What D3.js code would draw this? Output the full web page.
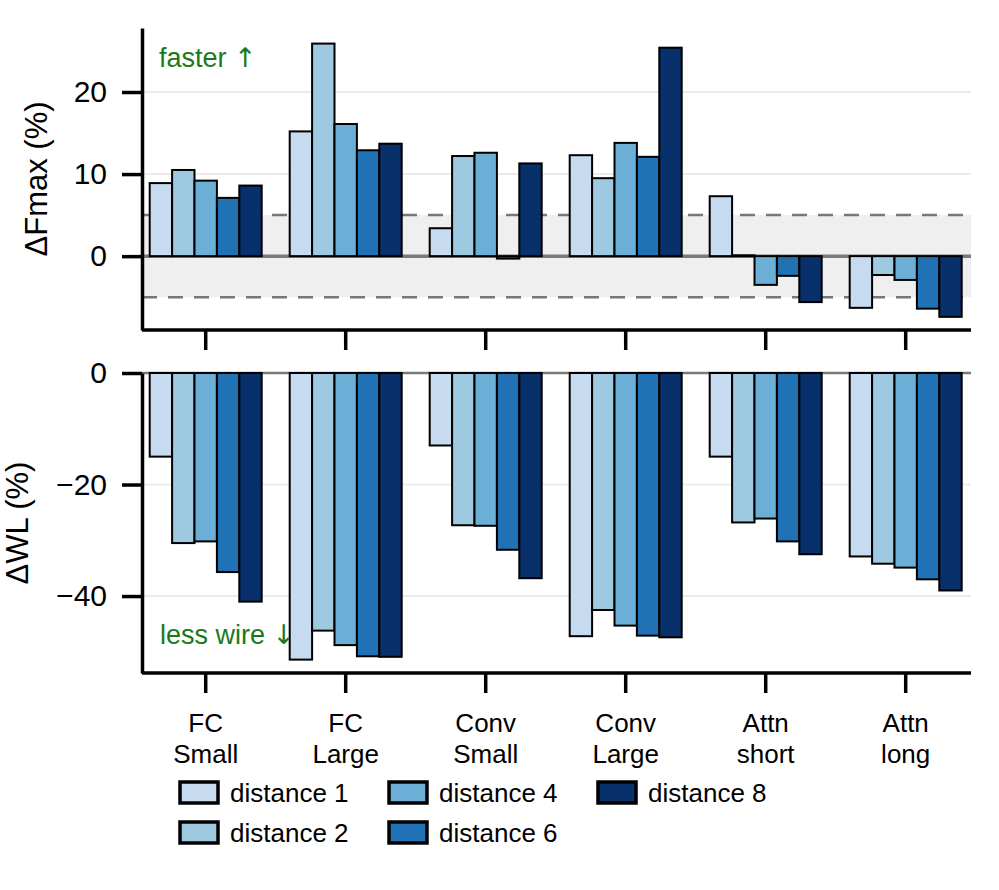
<!DOCTYPE html>
<html>
<head>
<meta charset="utf-8">
<script src="https://cdn.jsdelivr.net/npm/d3@7"></script>
<style>
body { margin:0; background:#fff; }
text { font-family: "Liberation Sans", Arial, Helvetica, sans-serif; fill:#000; }
</style>
</head>
<body>
<script>
var categories = ["FC\nSmall","FC\nLarge","Conv\nSmall","Conv\nLarge","Attn\nshort","Attn\nlong"];
var distances = ["distance 1","distance 2","distance 4","distance 6","distance 8"];
var colors = ["#c6dbef","#9ecae1","#6baed6","#2171b5","#08306b"];

// dFmax (%) per category, one value per distance
var fmax = [
	[8.9, 10.5, 9.2, 7.1, 8.6],
	[15.2, 25.9, 16.1, 12.9, 13.7],
	[3.4, 12.2, 12.6, -0.3, 11.3],
	[12.3, 9.5, 13.8, 12.1, 25.4],
	[7.3, 0.1, -3.5, -2.4, -5.6],
	[-6.3, -2.3, -2.9, -6.4, -7.4]
];

// dWL (%)
var wl = [
	[-15.0, -30.5, -30.2, -35.7, -41.0],
	[-51.4, -46.2, -48.8, -50.8, -50.9],
	[-13.0, -27.3, -27.4, -31.7, -36.8],
	[-47.2, -42.5, -45.3, -47.1, -47.4],
	[-15.0, -26.8, -26.1, -30.2, -32.5],
	[-32.9, -34.2, -34.9, -37.0, -39.0]
];

var topTicks = [0,10,20];
var botTicks = [0,-20,-40];
var bandLimit = 5;

var width = 999;
var height = 890;
var left = 142, right = 971;

var svg = d3.select("body").append("svg").attr("width",width).attr("height",height);

var x = d3.scaleBand().domain(categories).range([135.7,975.7]).paddingInner(0.2).paddingOuter(0.1);
var xSub = d3.scaleBand().domain(distances).range([0,x.bandwidth()]);

var yTop = d3.scaleLinear().domain([-9,27.8]).range([330,28]);
var yBot = d3.scaleLinear().domain([-53.8,0]).range([673,373]);

function panel(y, data, ticks, label, labelX, isTop){
	var g = svg.append("g");

	if(isTop){
		// grey "no change" band
		g.append("rect")
			.attr("x",left).attr("width",right-left)
			.attr("y",y(bandLimit)).attr("height",y(-bandLimit)-y(bandLimit))
			.attr("fill","#efefef");
	}

	// grid
	g.selectAll(".grid")
		.data(ticks.filter(function(d){ return d!=0; }))
		.enter().append("line")
			.attr("x1",left).attr("x2",right)
			.attr("y1",function(d){ return y(d); }).attr("y2",function(d){ return y(d); })
			.attr("stroke","#ebebeb").attr("stroke-width",2);

	if(isTop){
		g.selectAll(".dash")
			.data([bandLimit,-bandLimit])
			.enter().append("line")
				.attr("x1",left).attr("x2",right)
				.attr("y1",function(d){ return y(d); }).attr("y2",function(d){ return y(d); })
				.attr("stroke","#777").attr("stroke-width",2.5)
				.attr("stroke-dasharray","15,11");
	}

	// zero line
	g.append("line")
		.attr("x1",left).attr("x2",right)
		.attr("y1",y(0)).attr("y2",y(0))
		.attr("stroke","#7a7a7a").attr("stroke-width",isTop?3.5:2.5);

	var groups = g.selectAll(".grp")
		.data(data)
		.enter().append("g")
			.attr("transform",function(d,i){ return "translate("+x(categories[i])+",0)"; });

	groups.selectAll("rect")
		.data(function(d){ return d; })
		.enter().append("rect")
			.attr("x",function(d,i){ return xSub(distances[i]); })
			.attr("width",xSub.bandwidth())
			.attr("y",function(d){ return y(Math.max(0,d)); })
			.attr("height",function(d){ return Math.abs(y(d)-y(0)); })
			.attr("fill",function(d,i){ return colors[i]; })
			.attr("stroke","#000").attr("stroke-width",2);

	// y axis
	var ya = g.append("g")
		.attr("transform","translate("+left+",0)")
		.call(d3.axisLeft(y).tickValues(ticks).tickSize(20).tickSizeOuter(0).tickPadding(15));
	ya.select(".domain").attr("stroke-width",3.5);
	ya.selectAll(".tick line").attr("stroke-width",3.5);
	ya.selectAll("text").style("font-size","30px");

	// x axis
	var xa = g.append("g")
		.attr("transform","translate(0,"+y.range()[0]+")")
		.call(d3.axisBottom(x).tickSize(20).tickSizeOuter(0).tickFormat(""));
	xa.select(".domain").attr("d","M"+left+",0H"+right).attr("stroke-width",3.5);
	xa.selectAll(".tick line").attr("stroke-width",3.5);

	if(!isTop){
		xa.selectAll(".tick").each(function(d){
			var t = d3.select(this).append("text")
				.attr("text-anchor","middle")
				.style("font-size","26px");
			d.split("\n").forEach(function(s,k){
				t.append("tspan").attr("x",0).attr("y",59+k*31).text(s);
			});
		});
	}

	svg.append("text")
		.attr("transform","translate("+labelX+","+((y.range()[0]+y.range()[1])/2)+") rotate(-90)")
		.attr("text-anchor","middle")
		.attr("dominant-baseline","central")
		.style("font-size","31px")
		.text(label);
}

panel(yTop, fmax, topTicks, "ΔFmax (%)", 36, true);
panel(yBot, wl, botTicks, "ΔWL (%)", 17, false);

// direction hints (arrow glyph from DejaVu, it is taller)
var hint1 = svg.append("text").attr("x",159).attr("y",67)
	.style("font-size","27px").style("fill","#1a7a1a");
hint1.append("tspan").text("faster ");
hint1.append("tspan").style("font-family","DejaVu Sans").style("fill","#1a7a1a").text("↑");

var hint2 = svg.append("text").attr("x",160).attr("y",644)
	.style("font-size","27px").style("fill","#1a7a1a");
hint2.append("tspan").text("less wire ");
hint2.append("tspan").style("font-family","DejaVu Sans").style("fill","#1a7a1a").text("↓");

// legend, filled column by column
var legendCols = [180,389,598];
var legendRows = [782,822];

var legend = svg.selectAll(".leg")
	.data(distances)
	.enter().append("g")
		.attr("transform",function(d,i){
			return "translate("+legendCols[Math.floor(i/2)]+","+legendRows[i%2]+")";
		});

legend.append("rect")
	.attr("width",38).attr("height",21)
	.attr("fill",function(d,i){ return colors[i]; })
	.attr("stroke","#000").attr("stroke-width",3.5);

legend.append("text")
	.attr("x",50).attr("y",11)
	.attr("dominant-baseline","central")
	.style("font-size","26px")
	.text(function(d){ return d; });
</script>
</body>
</html>
